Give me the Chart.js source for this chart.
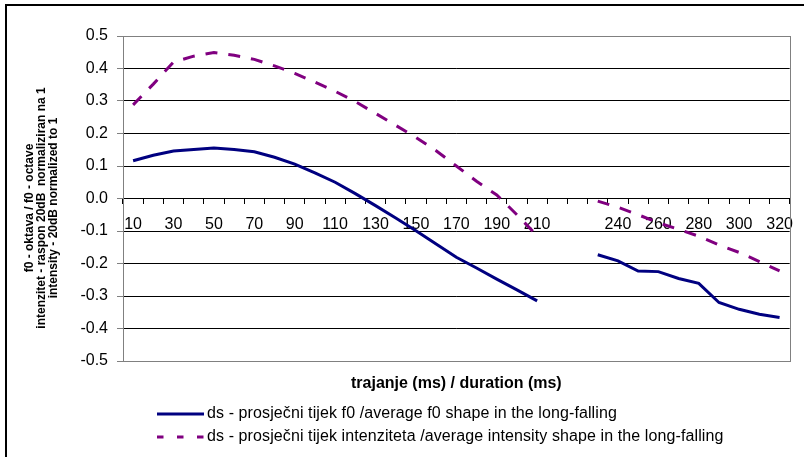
<!DOCTYPE html>
<html>
<head>
<meta charset="utf-8">
<script src="https://cdn.jsdelivr.net/npm/chart.js@4.4.0/dist/chart.umd.min.js"></script>
<style>
  html, body { margin: 0; padding: 0; background: #fff; }
  #chart { display: block; }
</style>
</head>
<body>
<canvas id="chart" width="804" height="457"></canvas>
<script>
// Duration categories (ms); one slot after 220 has no label
const durations = ['10', '20', '30', '40', '50', '60', '70', '80', '90', '100',
  '110', '120', '130', '140', '150', '160', '170', '180', '190', '200',
  '210', '220', '', '230', '240', '250', '260', '270', '280', '290',
  '300', '310', '320'];

// Average f0 shape (octave)
const f0Shape = [0.116, 0.133, 0.146, 0.151, 0.155, 0.151, 0.144, 0.127, 0.106, 0.079,
  0.050, 0.015, -0.022, -0.060, -0.099, -0.140, -0.181, -0.214, -0.248, -0.281,
  -0.315, null, null, -0.173, -0.192, -0.223, -0.225, -0.246, -0.261, -0.320,
  -0.341, -0.356, -0.366];

// Average intensity shape (20dB range normalized to 1)
const intensityShape = [0.288, 0.352, 0.420, 0.438, 0.449, 0.441, 0.428, 0.408, 0.385, 0.358,
  0.330, 0.298, 0.262, 0.225, 0.188, 0.147, 0.100, 0.053, 0.011, -0.050,
  -0.115, null, null, -0.008, -0.027, -0.050, -0.075, -0.095, -0.116, -0.143,
  -0.166, -0.194, -0.223];

const yTicks = [-0.5, -0.4, -0.3, -0.2, -0.1, 0.0, 0.1, 0.2, 0.3, 0.4, 0.5];

const seriesNames = [
  'ds - prosječni tijek f0 /average f0 shape in the long-falling',
  'ds - prosječni tijek intenziteta /average intensity shape in the long-falling'
];
const xTitle = 'trajanje (ms) / duration (ms)';
const yTitle = [
  'f0 - oktava / f0 - octave',
  'intenzitet - raspon 20dB  normaliziran na 1',
  'intensity - 20dB normalized to 1'
];

const FONT = '"Liberation Sans", Arial, sans-serif';
const legendDash = [[], [6.5, 13.5]];

// Frame, plot border, axis titles and legend (drawn like the spreadsheet chart)
const chartDecor = {
  id: 'chartDecor',
  beforeDraw(chart) {
    const ctx = chart.ctx;
    ctx.save();
    ctx.fillStyle = '#fff';
    ctx.fillRect(0, 0, chart.width, chart.height);
    ctx.strokeStyle = '#000';
    ctx.lineWidth = 2;
    ctx.beginPath();
    ctx.moveTo(chart.width + 2, 5);
    ctx.lineTo(6, 5);
    ctx.lineTo(6, chart.height + 2);
    ctx.stroke();
    ctx.restore();
  },
  beforeDatasetsDraw(chart) {
    const { ctx, chartArea: a } = chart;
    const l = Math.round(a.left) + 0.5;
    const t = Math.round(a.top) + 0.5;
    const r = Math.round(a.right) + 0.5;
    const b = Math.round(a.bottom) + 0.5;
    ctx.save();
    ctx.strokeStyle = '#808080';
    ctx.lineWidth = 1;
    ctx.strokeRect(l, t, r - l, b - t);
    ctx.restore();
  },
  afterDraw(chart) {
    const { ctx, chartArea: a } = chart;
    ctx.save();
    ctx.fillStyle = '#000';
    ctx.textBaseline = 'middle';
    ctx.textAlign = 'center';

    // y title, three rotated lines
    ctx.font = 'bold 12px ' + FONT;
    yTitle.forEach((line, i) => {
      ctx.save();
      ctx.translate(29.5 + i * 12, 208);
      ctx.rotate(-Math.PI / 2);
      ctx.fillText(line, 0, 0);
      ctx.restore();
    });

    // x title
    ctx.font = 'bold 16px ' + FONT;
    ctx.fillText(xTitle, (a.left + a.right) / 2, 384);

    // legend
    ctx.textAlign = 'left';
    ctx.font = '16px ' + FONT;
    ctx.letterSpacing = '0.1px';
    chart.data.datasets.forEach((ds, i) => {
      const y = 414 + i * 23;
      ctx.strokeStyle = ds.borderColor;
      ctx.lineWidth = ds.borderWidth;
      ctx.setLineDash(legendDash[i]);
      ctx.beginPath();
      ctx.moveTo(157, y);
      ctx.lineTo(204, y);
      ctx.stroke();
      ctx.setLineDash([]);
      ctx.fillText(ds.label, 207, y);
    });
    ctx.restore();
  }
};

const ctx = document.getElementById('chart').getContext('2d');
new Chart(ctx, {
  type: 'line',
  data: {
    labels: durations,
    datasets: [{
      label: seriesNames[0],
      data: f0Shape,
      borderColor: '#000080',
      borderWidth: 3,
      pointRadius: 0,
      tension: 0,
      spanGaps: false
    }, {
      label: seriesNames[1],
      data: intensityShape,
      borderColor: '#800080',
      borderWidth: 3,
      borderDash: [12, 11],
      pointRadius: 0,
      tension: 0,
      spanGaps: false
    }]
  },
  options: {
    responsive: false,
    animation: false,
    devicePixelRatio: 1,
    layout: {
      padding: { left: 7, top: 36, right: 5, bottom: 96 }
    },
    plugins: {
      legend: { display: false },
      tooltip: { enabled: false }
    },
    scales: {
      x: {
        type: 'category',
        position: { y: 0 },
        offset: true,
        grid: {
          offset: true,
          drawOnChartArea: false,
          tickLength: 5,
          tickColor: '#000'
        },
        border: { color: '#000', width: 1 },
        ticks: {
          autoSkip: false,
          maxRotation: 0,
          padding: 11,
          color: '#000',
          font: { family: FONT, size: 16 },
          callback: (value, index) => (index % 2 === 0 ? durations[index] : '')
        }
      },
      y: {
        min: -0.5,
        max: 0.5,
        afterFit: (scale) => { scale.width = 116; },
        afterBuildTicks: (scale) => { scale.ticks = yTicks.map(v => ({ value: v })); },
        grid: {
          color: '#000',
          tickColor: '#808080',
          tickLength: 6
        },
        border: { color: '#808080', width: 1 },
        ticks: {
          padding: 9,
          color: '#000',
          font: { family: FONT, size: 16 },
          callback: (v) => (Math.abs(v) < 1e-9 ? '0.0' : v.toFixed(1))
        }
      }
    }
  },
  plugins: [chartDecor]
});
</script>
</body>
</html>
